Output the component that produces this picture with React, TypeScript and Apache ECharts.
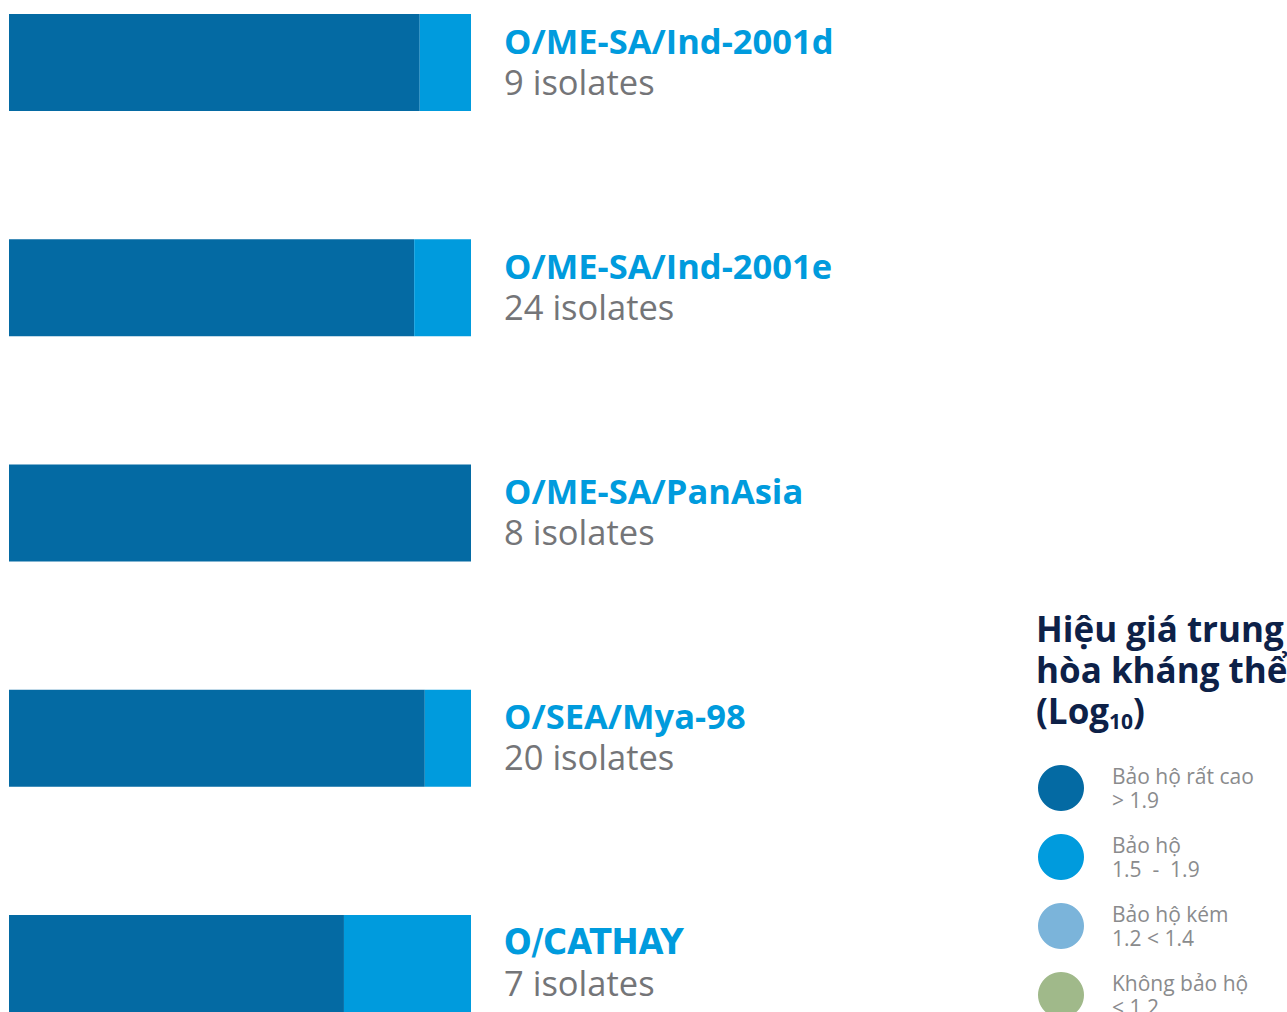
import React, { useEffect, useRef } from "react";
import * as echarts from "echarts";

const categories = ["O/ME-SA/Ind-2001d", "O/ME-SA/Ind-2001e", "O/ME-SA/PanAsia", "O/SEA/Mya-98", "O/CATHAY"];
const isolates = [9, 24, 8, 20, 7];
// share of isolates (%) per protection level
const veryHigh = [88.9, 87.7, 100, 90, 72.5];
const protectedShare = [11.1, 12.3, 0, 10, 27.5];
const weak = [0, 0, 0, 0, 0];
const none = [0, 0, 0, 0, 0];
const legendNames = ["Bảo hộ rất cao", "Bảo hộ", "Bảo hộ kém", "Không bảo hộ"];
const legendRanges = ["> 1.9", "1.5  -  1.9", "1.2 < 1.4", "< 1.2"];
const colors = ["#046aa3", "#009bdd", "#7bb4da", "#a0b98a"];

export default function App() {
  const ref = useRef<HTMLDivElement>(null);
  useEffect(() => {
    const chart = echarts.init(ref.current!, null, { renderer: "svg" });
    const font = "'Open Sans', 'Noto Sans', sans-serif";
    const seriesData = [veryHigh, protectedShare, weak, none];
    chart.setOption({
      animation: false,
      backgroundColor: "#ffffff",
      textStyle: { fontFamily: font },
      title: {
        left: 1036,
        top: 608,
        padding: 0,
        text: "Hiệu giá trung\nhòa kháng thể\n(Log{sub|10})",
        textStyle: {
          fontFamily: font,
          fontWeight: "bold",
          fontSize: 35,
          lineHeight: 41,
          color: "#0d2148",
          rich: {
            sub: { fontFamily: font, fontWeight: "bold", fontSize: 21, color: "#0d2148", verticalAlign: "bottom", lineHeight: 16 },
          },
        },
      },
      legend: {
        orient: "vertical",
        left: 1038,
        top: 764,
        height: 400,
        padding: 0,
        icon: "circle",
        itemWidth: 46,
        itemHeight: 46,
        itemGap: 21,
        selectedMode: false,
        data: legendNames,
        formatter: (name: string) => `${name}\n${legendRanges[legendNames.indexOf(name)]}`,
        textStyle: {
          fontFamily: font,
          fontSize: 21,
          lineHeight: 24,
          color: "#8a8b8d",
          padding: [0, 0, 0, 23],
        },
      },
      grid: { left: 9, width: 462, top: 62.5, height: 901, containLabel: false },
      xAxis: { type: "value", min: 0, max: 100, show: false },
      yAxis: {
        type: "category",
        data: categories,
        inverse: true,
        boundaryGap: false,
        position: "right",
        axisLine: { show: false },
        axisTick: { show: false },
        splitLine: { show: false },
        axisLabel: {
          margin: 33,
          formatter: (value: string, idx: number) =>
            idx === 4
              ? `{cond|${value}}\n{count|${isolates[idx]} isolates}`
              : `{name|${value}}\n{count|${isolates[idx]} isolates}`,
          rich: {
            name: { fontFamily: font, fontWeight: "bold", fontSize: 34.5, lineHeight: 45, color: "#009bdd" },
            cond: { fontFamily: "'DejaVu Sans Condensed', 'Liberation Sans Narrow', sans-serif", fontWeight: "bold", fontSize: 36, lineHeight: 45, color: "#009bdd" },
            count: { fontFamily: font, fontSize: 34.5, lineHeight: 45, color: "#747578", padding: [0, 0, 8, 0] },
          },
        },
      },
      series: legendNames.map((name, i) => ({
        name,
        type: "bar",
        stack: "total",
        barWidth: 97,
        clip: false,
        itemStyle: { color: colors[i] },
        data: seriesData[i],
      })),
    });
    return () => chart.dispose();
  }, []);
  return <div ref={ref} style={{ position: "fixed", left: 0, top: 0, width: 1287, height: 1012 }} />;
}
